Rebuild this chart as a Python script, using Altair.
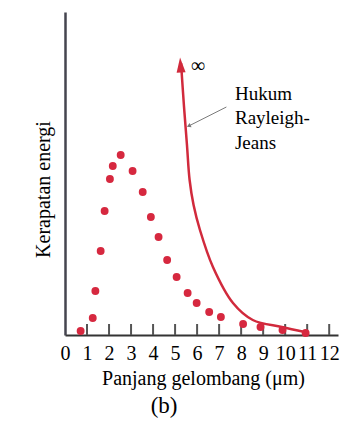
import altair as alt
import pandas as pd

# Measured data (arbitrary energy-density units, wavelength in µm)
dot_x = [0.71, 1.26, 1.38, 1.62, 1.80, 2.04, 2.17, 2.53, 3.07, 3.53, 3.90, 4.25,
         4.64, 5.07, 5.57, 5.98, 6.55, 7.08, 8.09, 8.88, 9.88, 10.93]
dot_y = [4, 17, 44, 84, 124, 156, 169, 180, 164, 143, 118, 98,
         75, 58, 42, 32, 23, 18, 11, 8, 5, 2]

rj_x = [5.27, 5.40, 5.54, 5.66, 5.84, 6.13, 6.72, 7.63, 8.53, 9.85, 10.89]
rj_y = [272, 230, 190, 155, 130, 105, 68, 32, 15, 8, 3]

tick_vals = list(range(1, 13))
label_vals = list(range(0, 13))

note_lines = ["Hukum", "Rayleigh-", "Jeans"]
note_x = [7.72, 7.72, 7.72]
note_y = [235, 211, 186]

inf_x = [6.04]
inf_y = [269]

arrow_x = [5.25]
arrow_y = [270]

ptr_x = [5.62]
ptr_y = [209]
ptr_x2 = [7.33]
ptr_y2 = [228]

W, H = 273, 323
SERIF = "Liberation Serif"
RED = "#d12a3c"

xscale = alt.Scale(domain=[0, 12.4], nice=False, zero=False)
yscale = alt.Scale(domain=[0, 323], nice=False)

x_axis = alt.Axis(
    values=label_vals, format="d", grid=False, ticks=False, tickSize=0,
    domainColor="#333333", domainWidth=2, labelFont=SERIF, labelFontSize=20,
    labelColor="black", labelPadding=8, labelFlush=False,
    title="Panjang gelombang (μm)", titleFont=SERIF, titleFontSize=20,
    titleFontWeight="normal", titleColor="black", titleX=138, titleY=49,
    titleBaseline="alphabetic", titleAlign="center",
)
y_axis = alt.Axis(
    grid=False, ticks=False, labels=False, domainColor="#45454f", domainWidth=2.5,
    title="Kerapatan energi", titleFont=SERIF, titleFontSize=20,
    titleFontWeight="normal", titleColor="black", titleAngle=270,
    titleX=-22, titleY=177, titleAlign="center", titleBaseline="middle",
)

X = alt.X("x:Q", scale=xscale, axis=x_axis)
Y = alt.Y("y:Q", scale=yscale, axis=y_axis)

dots = alt.Chart(pd.DataFrame({"x": dot_x, "y": dot_y})).mark_circle(
    size=62, color="#d6283f", opacity=1
).encode(x=X, y=Y)

curve = alt.Chart(pd.DataFrame({"x": rj_x, "y": rj_y})).mark_line(
    color=RED, strokeWidth=2.5, interpolate="catmull-rom"
).encode(x=X, y=Y)

arrow = alt.Chart(pd.DataFrame({"x": arrow_x, "y": arrow_y})).mark_point(
    shape="M0,-1L0.6,1L-0.6,1Z", filled=True, size=225, color=RED,
    opacity=1, angle=356
).encode(x=X, y=Y)

ticks = alt.Chart(pd.DataFrame({"x": tick_vals})).mark_rule(
    color="#555555", strokeWidth=2
).encode(x=X, y=alt.value(H - 11), y2=alt.value(H))

notes = alt.Chart(pd.DataFrame({"x": note_x, "y": note_y, "t": note_lines})).mark_text(
    font=SERIF, fontSize=19, align="left", baseline="alphabetic", color="black"
).encode(x=X, y=Y, text="t:N")

inf = alt.Chart(pd.DataFrame({"x": inf_x, "y": inf_y, "t": ["∞"]})).mark_text(
    font=SERIF, fontSize=20, align="center", baseline="middle", color="black"
).encode(x=X, y=Y, text="t:N")

pointer = alt.Chart(pd.DataFrame({"x": ptr_x, "y": ptr_y, "x2": ptr_x2, "y2": ptr_y2})).mark_rule(
    color="#7a7a7a", strokeWidth=1
).encode(x=X, y=Y, x2="x2:Q", y2="y2:Q")

ptr_head = alt.Chart(pd.DataFrame({"x": ptr_x, "y": ptr_y})).mark_point(
    shape="triangle-up", filled=True, size=22, color="#7a7a7a", opacity=1, angle=246
).encode(x=X, y=Y)

caption = alt.Chart(pd.DataFrame({"x": [4.5], "t": ["(b)"]})).mark_text(
    font=SERIF, fontSize=23, align="center", baseline="middle", color="black"
).encode(x=X, y=alt.value(394), text="t:N")

chart = alt.layer(
    ticks, curve, arrow, dots, pointer, ptr_head, notes, inf, caption
).properties(
    width=W, height=H,
    autosize=alt.AutoSizeParams(type="none"),
    padding={"left": 57, "top": 4, "right": 2, "bottom": 85},
    background="white",
).configure_view(stroke=None)

chart.save("out.html", embed_options={"renderer": "svg", "actions": False})
